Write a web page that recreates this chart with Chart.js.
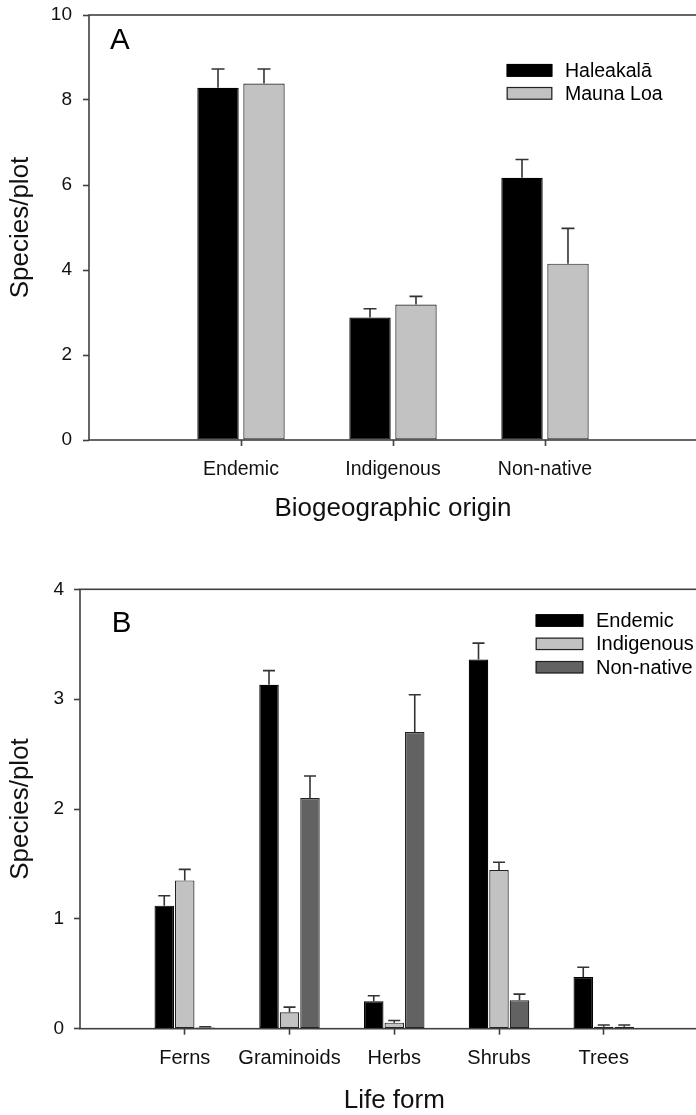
<!DOCTYPE html>
<html><head><meta charset="utf-8">
<script src="https://cdn.jsdelivr.net/npm/chart.js@4.4.1/dist/chart.umd.min.js"></script>
<style>
html,body{margin:0;padding:0;background:#fff;overflow:hidden;width:696px;height:1115px;}
#ca{position:absolute;left:0;top:0;}
#cb{position:absolute;left:0;top:560px;}
</style></head><body>
<canvas id="ca" width="698" height="540"></canvas>
<canvas id="cb" width="710" height="580"></canvas>
<script>
// ---- Panel A data ----
const originCategories = ['Endemic', 'Indigenous', 'Non-native'];
const haleakalaMeans  = [8.29, 2.88, 6.17];
const haleakalaErrors = [0.44, 0.21, 0.43];
const maunaLoaMeans   = [8.39, 3.19, 4.15];
const maunaLoaErrors  = [0.34, 0.19, 0.83];
const originYTicks    = [0, 2, 4, 6, 8, 10];

// ---- Panel B data ----
const lifeFormCategories = ['Ferns', 'Graminoids', 'Herbs', 'Shrubs', 'Trees'];
const endemicMeans     = [1.12, 3.13, 0.25, 3.36, 0.47];
const endemicErrors    = [0.09, 0.13, 0.05, 0.15, 0.09];
const indigenousMeans  = [1.35, 0.15, 0.055, 1.445, 0.018];
const indigenousErrors = [0.10, 0.046, 0.02, 0.07, 0.016];
const nonNativeMeans   = [0.012, 2.10, 2.70, 0.26, 0.018];
const nonNativeErrors  = [0.006, 0.20, 0.34, 0.055, 0.016];
const lifeFormYTicks   = [0, 1, 2, 3, 4];

const FONT = "'Liberation Sans', Arial, Helvetica, sans-serif";
const AXIS = '#404040';
const pad = a => [null, ...a, null];
const padL = a => ['', ...a, ''];

const errorBarPlugin = {
  id: 'errorBars',
  afterDatasetsDraw(chart, args, o) {
    const ctx = chart.ctx, y = chart.scales.y;
    chart.data.datasets.forEach((ds, di) => {
      if (!ds.errors) return;
      const meta = chart.getDatasetMeta(di);
      meta.data.forEach((bar, i) => {
        const v = ds.data[i], e = ds.errors[i];
        if (v == null || e == null) return;
        const yb = y.getPixelForValue(v), yt = y.getPixelForValue(v + e);
        ctx.save();
        ctx.strokeStyle = o.color; ctx.lineWidth = o.width;
        ctx.beginPath();
        ctx.moveTo(bar.x, yb); ctx.lineTo(bar.x, yt);
        ctx.moveTo(bar.x - o.cap, yt); ctx.lineTo(bar.x + o.cap, yt);
        ctx.stroke(); ctx.restore();
      });
    });
  }
};

const framePlugin = {
  id: 'frame',
  afterDatasetsDraw(chart) {
    const {left, top, right, bottom} = chart.chartArea, ctx = chart.ctx;
    ctx.save(); ctx.strokeStyle = AXIS; ctx.lineWidth = 1.6;
    ctx.strokeRect(left, top, right - left, bottom - top);
    ctx.restore();
  }
};

const boxLegend = {
  id: 'boxLegend',
  afterDraw(chart, args, o) {
    const ctx = chart.ctx;
    ctx.save();
    chart.data.datasets.forEach((ds, i) => {
      const t = o.top + i * o.rowGap;
      ctx.fillStyle = ds.backgroundColor; ctx.fillRect(o.x, t, o.w, o.h);
      ctx.strokeStyle = ds.borderColor; ctx.lineWidth = 1.2;
      ctx.strokeRect(o.x + 0.5, t + 0.5, o.w - 1, o.h - 1);
      ctx.fillStyle = '#000'; ctx.font = o.font;
      ctx.textBaseline = 'middle'; ctx.textAlign = 'left';
      ctx.fillText(ds.label, o.textX, t + o.h / 2 + 1);
    });
    ctx.font = o.letterFont; ctx.textBaseline = 'alphabetic'; ctx.fillStyle = '#000';
    ctx.fillText(o.letter, o.letterX, o.letterY);
    ctx.restore();
  }
};

function tickColor(c) { return (c.tick && c.tick.label) ? AXIS : 'rgba(0,0,0,0)'; }
function noPad(s) { s.paddingTop = 0; s.paddingBottom = 0; s.paddingLeft = 0; s.paddingRight = 0; }

function makeOptions(cfg) {
  return {
    responsive: false, animation: false,
    layout: { padding: cfg.padding },
    datasets: { bar: { categoryPercentage: cfg.catPct, barPercentage: cfg.barPct, borderSkipped: false } },
    plugins: {
      legend: { display: false }, tooltip: { enabled: false },
      errorBars: { color: '#333', width: 1.6, cap: cfg.cap },
      boxLegend: cfg.legend
    },
    scales: {
      x: {
        type: 'category', offset: false,
        border: { display: false },
        grid: { display: true, offset: false, drawOnChartArea: false, drawTicks: true, tickLength: 6, tickWidth: 1.6, tickColor: tickColor },
        ticks: { color: '#111', font: { family: FONT, size: cfg.xFont }, padding: 12, autoSkip: false, maxRotation: 0 },
        title: { display: true, text: cfg.xTitle, color: '#111', font: { family: FONT, size: 26 }, padding: cfg.xTitlePad },
        afterFit(s) { s.height = cfg.xHeight; noPad(s); }
      },
      y: {
        min: cfg.yTicks[0], max: cfg.yTicks[cfg.yTicks.length - 1],
        border: { display: false },
        grid: { display: true, drawOnChartArea: false, drawTicks: true, tickLength: 6, tickWidth: 1.6, tickColor: AXIS },
        ticks: { color: '#111', font: { family: FONT, size: 19 }, padding: cfg.yPad },
        afterBuildTicks(s) { s.ticks = cfg.yTicks.map(v => ({ value: v })); },
        title: { display: true, text: 'Species/plot', color: '#111', font: { family: FONT, size: 26 }, padding: 5.4 },
        afterFit(s) { s.width = cfg.yWidth; noPad(s); }
      }
    }
  };
}

new Chart(document.getElementById('ca'), {
  type: 'bar',
  data: {
    labels: padL(originCategories),
    datasets: [
      { label: 'Haleakalā', data: pad(haleakalaMeans), errors: pad(haleakalaErrors), backgroundColor: '#000000', borderColor: '#000000', borderWidth: 1.2 },
      { label: 'Mauna Loa', data: pad(maunaLoaMeans), errors: pad(maunaLoaErrors), backgroundColor: '#c2c2c2', borderColor: '#222222', borderWidth: 1.2 }
    ]
  },
  options: makeOptions({
    padding: { top: 15, right: 1, bottom: 0, left: 0 },
    catPct: 0.605, barPct: 0.9, cap: 6.5,
    xFont: 19.5, xTitle: 'Biogeographic origin', xTitlePad: 15.9, xHeight: 100,
    yTicks: originYTicks, yPad: 11, yWidth: 89,
    legend: { x: 506.7, w: 45.6, top: 64, rowGap: 23, h: 12.7, textX: 565, font: '19.5px ' + FONT,
              letter: 'A', letterX: 110, letterY: 49, letterFont: '29.5px ' + FONT }
  }),
  plugins: [framePlugin, errorBarPlugin, boxLegend]
});

new Chart(document.getElementById('cb'), {
  type: 'bar',
  data: {
    labels: padL(lifeFormCategories),
    datasets: [
      { label: 'Endemic', data: pad(endemicMeans), errors: pad(endemicErrors), backgroundColor: '#000000', borderColor: '#000000', borderWidth: 1.2 },
      { label: 'Indigenous', data: pad(indigenousMeans), errors: pad(indigenousErrors), backgroundColor: '#c2c2c2', borderColor: '#222222', borderWidth: 1.2 },
      { label: 'Non-native', data: pad(nonNativeMeans), errors: pad(nonNativeErrors), backgroundColor: '#626262', borderColor: '#222222', borderWidth: 1.2 }
    ]
  },
  options: makeOptions({
    padding: { top: 29.3, right: 1.5, bottom: 0, left: 0 },
    catPct: 0.587, barPct: 0.95, cap: 6,
    xFont: 20, xTitle: 'Life form', xTitlePad: 23.4, xHeight: 111.3,
    yTicks: lifeFormYTicks, yPad: 10, yWidth: 80,
    legend: { x: 535.7, w: 47.6, top: 54.3, rowGap: 23.35, h: 12.4, textX: 596, font: '20px ' + FONT,
              letter: 'B', letterX: 111.7, letterY: 72.3, letterFont: '29.5px ' + FONT }
  }),
  plugins: [framePlugin, errorBarPlugin, boxLegend]
});
</script>
</body></html>
